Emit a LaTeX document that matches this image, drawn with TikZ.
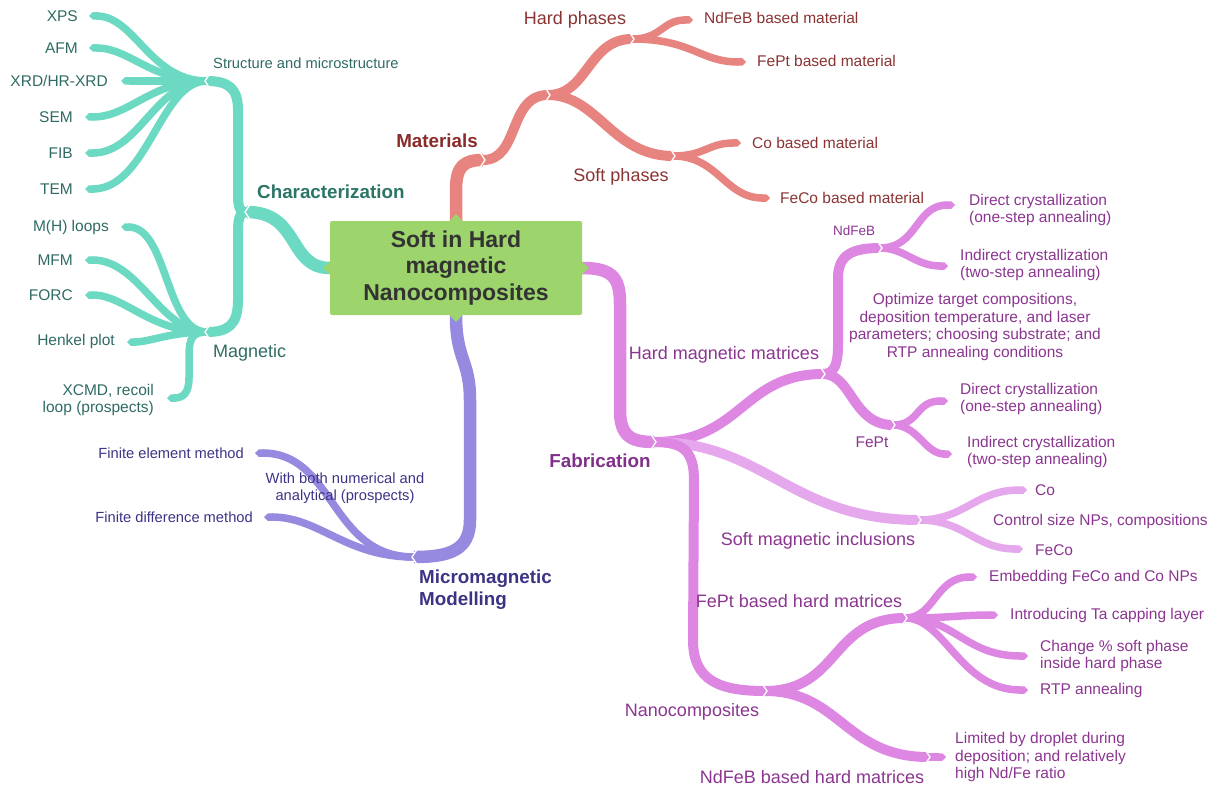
\documentclass[tikz,border=0pt]{standalone}
\usepackage{fontspec}
\setmainfont{Liberation Sans}
\usetikzlibrary{arrows.meta}
\pgfdeclarelayer{bg}
\pgfsetlayers{bg,main}
\definecolor{teal1}{HTML}{6CD9C2}
\definecolor{tealtx}{HTML}{2F6B64}
\definecolor{tealbd}{HTML}{2A7566}
\definecolor{red1}{HTML}{E8847F}
\definecolor{redtx}{HTML}{8A3333}
\definecolor{redbd}{HTML}{8A2A2A}
\definecolor{pur1}{HTML}{DD87E3}
\definecolor{pur2}{HTML}{E6A8EC}
\definecolor{purtx}{HTML}{8B3590}
\definecolor{purbd}{HTML}{80308A}
\definecolor{blu1}{HTML}{9589E0}
\definecolor{blutx}{HTML}{3B3485}
\definecolor{cgreen}{HTML}{9DD46C}
\definecolor{ctx}{HTML}{333333}
\newcommand\fsz[2]{\fontsize{#1}{#2}\selectfont}
\tikzset{
  bA/.style={line width=12.5pt, line cap=butt},
  bB/.style={line width=10pt, line cap=butt},
  bC/.style={line width=7.5pt, line cap=butt, -{Triangle Cap}},
  lf/.style={inner sep=0pt, font=\fsz{15.5}{17.5}},
  lfs/.style={inner sep=0pt, font=\fsz{14.7}{17}},
  mid/.style={inner sep=0pt, font=\fsz{18}{21}},
  big/.style={inner sep=0pt, font=\fsz{18.8}{21.5}\bfseries},
  nr/.pic={\draw[white, line width=1.3pt] (-3,-7.5) -- (2,0) -- (-3,7.5);},
  nl/.pic={\draw[white, line width=1.3pt] (3,-7.5) -- (-2,0) -- (3,7.5);},
}
\begin{document}
\begin{tikzpicture}[x=1pt, y=-1pt]
\useasboundingbox (0,0) rectangle (1215,789);

% central node
\node[fill=cgreen, rounded corners=2pt, minimum width=252pt, minimum height=94pt,
      inner sep=0pt, align=center, text=ctx, font=\fsz{23}{26.5}\bfseries] (c) at (456,268)
      {Soft in Hard\\magnetic\\Nanocomposites};
\fill[cgreen] (449,221.5) -- (456,214) -- (463,221.5) -- cycle;
\fill[cgreen] (449,314.5) -- (456,322) -- (463,314.5) -- cycle;
\fill[cgreen] (330.5,261) -- (323,268) -- (330.5,275) -- cycle;
\fill[cgreen] (581.5,261) -- (589,268) -- (581.5,275) -- cycle;

% junction and tip coordinates
% red
\coordinate (mat) at (483,160);
\coordinate (hs) at (548,95);
\coordinate (hp) at (632,39);
\coordinate (sp) at (673,156);
\coordinate (tndfeb) at (693,20);
\coordinate (tfept) at (746,62);
\coordinate (tco) at (741,143);
\coordinate (tfeco) at (770,198);
% teal
\coordinate (ch) at (247,212);
\coordinate (st) at (207,81);
\coordinate (mg) at (207,332);
\coordinate (txps) at (89,16);
\coordinate (tafm) at (89,48);
\coordinate (txrd) at (121,81);
\coordinate (tsem) at (85,117);
\coordinate (tfib) at (85,153);
\coordinate (ttem) at (85,189);
\coordinate (tmh) at (121,227);
\coordinate (tmfm) at (85,260);
\coordinate (tforc) at (85,295);
\coordinate (thenk) at (127,342);
\coordinate (txcmd) at (167,398);
% blue
\coordinate (mm) at (414,557);
\coordinate (tfem) at (255,453);
\coordinate (tfdm) at (264,517);
% purple
\coordinate (fab) at (654,442);
\coordinate (hmm) at (823,374);
\coordinate (nd) at (880,248);
\coordinate (tnda) at (955,205);
\coordinate (tndb) at (948,266);
\coordinate (fp) at (893,425);
\coordinate (tfpa) at (948,401);
\coordinate (tfpb) at (952,454);
\coordinate (si) at (919,520);
\coordinate (tcob) at (1027,490);
\coordinate (tfecob) at (1023,549);
\coordinate (nc) at (765,691);
\coordinate (fpb) at (905,618);
\coordinate (temb) at (977,577);
\coordinate (tta) at (998,615);
\coordinate (tchg) at (1028,656);
\coordinate (trtp) at (1028,690);
\coordinate (ndb) at (928,757);
\coordinate (tlim) at (946,757);

\begin{pgfonlayer}{bg}
% ---------- Materials (red)
\draw[red1,bA] (c.north) -- (456,190) .. controls (456,166) and (464,160) .. (mat);
\draw[red1,bB] (mat) .. controls (520,160) and (508,95) .. (hs);
\draw[red1,bB] (hs) .. controls (588,95) and (588,39) .. (hp);
\draw[red1,bB] (hs) .. controls (598,95) and (612,156) .. (sp);
\draw[red1,bC] (hp) .. controls (662,39) and (662,20) .. (tndfeb);
\draw[red1,bC] (hp) .. controls (692,39) and (700,62) .. (tfept);
\draw[red1,bC] (sp) .. controls (705,156) and (708,143) .. (tco);
\draw[red1,bC] (sp) .. controls (718,156) and (725,198) .. (tfeco);
% ---------- Characterization (teal)
\draw[teal1,bA] (c.west) .. controls (288,268) and (300,212) .. (ch);
\draw[teal1,bB] (ch) .. controls (238,212) and (238,205) .. (238,190) -- (238,110) .. controls (238,88) and (228,81) .. (st);
\draw[teal1,bB] (ch) .. controls (238,212) and (238,222) .. (238,235) -- (238,300) .. controls (238,325) and (228,332) .. (mg);
\draw[teal1,bC] (st) .. controls (150,81) and (135,16) .. (txps);
\draw[teal1,bC] (st) .. controls (150,81) and (130,48) .. (tafm);
\draw[teal1,bC] (st) -- (txrd);
\draw[teal1,bC] (st) .. controls (150,81) and (130,117) .. (tsem);
\draw[teal1,bC] (st) .. controls (155,81) and (140,153) .. (tfib);
\draw[teal1,bC] (st) .. controls (160,81) and (148,189) .. (ttem);
\draw[teal1,bC] (mg) .. controls (165,332) and (168,227) .. (tmh);
\draw[teal1,bC] (mg) .. controls (160,332) and (140,260) .. (tmfm);
\draw[teal1,bC] (mg) .. controls (150,332) and (125,295) .. (tforc);
\draw[teal1,bC] (mg) .. controls (170,332) and (150,342) .. (thenk);
\draw[teal1,bC] (mg) .. controls (193,332) and (189,338) .. (189,355) -- (189,378) .. controls (189,393) and (183,398) .. (txcmd);
% ---------- Micromagnetic (blue)
\draw[blu1,bA] (c.south) .. controls (456,360) and (470,360) .. (470,400) -- (470,520) .. controls (470,550) and (450,557) .. (mm);
\draw[blu1,bC] (mm) .. controls (330,557) and (335,453) .. (tfem);
\draw[blu1,bC] (mm) .. controls (345,557) and (320,517) .. (tfdm);
% ---------- Fabrication (purple)
\draw[pur1,bA] (c.east) .. controls (615,268) and (620,280) .. (620,305) -- (620,410) .. controls (620,437) and (632,442) .. (fab);
\draw[pur1,bB] (fab) .. controls (742,442) and (742,374) .. (hmm);
\draw[pur1,bB] (hmm) .. controls (834,374) and (838,365) .. (838,345) -- (838,278) .. controls (838,255) and (852,248) .. (nd);
\draw[pur1,bB] (hmm) .. controls (852,374) and (852,425) .. (fp);
\draw[pur1,bC] (nd) .. controls (918,248) and (915,205) .. (tnda);
\draw[pur1,bC] (nd) .. controls (905,248) and (915,266) .. (tndb);
\draw[pur1,bC] (fp) .. controls (920,425) and (915,401) .. (tfpa);
\draw[pur1,bC] (fp) .. controls (918,425) and (925,454) .. (tfpb);
\draw[pur2,bB] (fab) .. controls (765,442) and (790,520) .. (si);
\draw[pur2,bC] (si) .. controls (965,520) and (975,490) .. (tcob);
\draw[pur2,bC] (si) .. controls (965,520) and (975,549) .. (tfecob);
\draw[pur1,bB] (fab) .. controls (682,442) and (694,450) .. (694,480) -- (693,640) .. controls (693,681) and (720,691) .. (nc);
\draw[pur1,bB] (nc) .. controls (840,691) and (830,618) .. (fpb);
\draw[pur1,bB] (nc) .. controls (840,691) and (845,757) .. (ndb);
\draw[pur1,bC] (fpb) .. controls (935,618) and (935,577) .. (temb);
\draw[pur1,bC] (fpb) .. controls (950,618) and (960,615) .. (tta);
\draw[pur1,bC] (fpb) .. controls (955,618) and (965,656) .. (tchg);
\draw[pur1,bC] (fpb) .. controls (945,618) and (960,690) .. (trtp);
\draw[pur1,bC] (ndb) -- (tlim);
\end{pgfonlayer}

% notches
\foreach \p in {mat,hs,hp,sp,fab,hmm,nd,fp,si,nc,fpb,ndb} \pic at (\p) {nr};
\foreach \p in {ch,st,mg,mm} \pic at (\p) {nl};

% ---------- labels red
\node[big, text=redbd] (lmat) at (437,141) {Materials};
\node[mid, text=redtx] (lhp) at (575,20) {Hard phases};
\node[mid, text=redtx] (lsp) at (621,177) {Soft phases};
\node[lf, text=redtx, anchor=west] (lndfeb) at (704,18) {NdFeB based material};
\node[lf, text=redtx, anchor=west] (lfept) at (757,61) {FePt based material};
\node[lf, text=redtx, anchor=west] (lco) at (752,143) {Co based material};
\node[lf, text=redtx, anchor=west] (lfeco) at (780,198) {FeCo based material};
% ---------- labels teal
\node[lfs, text=tealtx, anchor=west] (lst) at (213,63) {Structure and microstructure};
\node[big, text=tealbd, anchor=west] (lch) at (257,192) {Characterization};
\node[mid, text=tealtx, anchor=west] (lmg) at (213,353) {Magnetic};
\node[lf, text=tealtx, anchor=east] (lxps) at (78,16) {XPS};
\node[lf, text=tealtx, anchor=east] (lafm) at (78,48) {AFM};
\node[lf, text=tealtx, anchor=east] (lxrd) at (108,81) {XRD/HR-XRD};
\node[lf, text=tealtx, anchor=east] (lsem) at (73,117) {SEM};
\node[lf, text=tealtx, anchor=east] (lfib) at (73,153) {FIB};
\node[lf, text=tealtx, anchor=east] (ltem) at (73,189) {TEM};
\node[lf, text=tealtx, anchor=east] (lmh) at (109,227) {M(H) loops};
\node[lf, text=tealtx, anchor=east] (lmfm) at (73,260) {MFM};
\node[lf, text=tealtx, anchor=east] (lforc) at (73,295) {FORC};
\node[lf, text=tealtx, anchor=east] (lhenk) at (115,341) {Henkel plot};
\node[lf, text=tealtx, anchor=east, align=right] (lxcmd) at (154,400) {XCMD, recoil\\loop (prospects)};
% ---------- labels blue
\node[big, text=blutx, anchor=north west, align=left] (lmm) at (419,570) {Micromagnetic\\Modelling};
\node[lfs, text=blutx, anchor=east] (lfem) at (244,453) {Finite element method};
\node[lfs, text=blutx, anchor=east] (lfdm) at (253,517) {Finite difference method};
\node[lfs, text=blutx, align=center] (lboth) at (345,488) {With both numerical and\\analytical (prospects)};
% ---------- labels purple
\node[big, text=purbd] (lfab) at (600,461) {Fabrication};
\node[mid, text=purtx] (lhmm) at (724,355) {Hard magnetic matrices};
\node[lfs, text=purtx, font=\fsz{13.5}{16}] (lnd) at (854,231) {NdFeB};
\node[lf, text=purtx, anchor=west, align=left] (lnda) at (969,210) {Direct crystallization\\(one-step annealing)};
\node[lf, text=purtx, anchor=west, align=left] (lndb) at (960,265) {Indirect crystallization\\(two-step annealing)};
\node[lf, text=purtx, align=center] (lopt) at (975,327) {Optimize target compositions,\\deposition temperature, and laser\\parameters; choosing substrate; and\\RTP annealing conditions};
\node[lf, text=purtx] (lfp) at (872,442) {FePt};
\node[lf, text=purtx, anchor=west, align=left] (lfpa) at (960,399) {Direct crystallization\\(one-step annealing)};
\node[lf, text=purtx, anchor=west, align=left] (lfpb) at (967,452) {Indirect crystallization\\(two-step annealing)};
\node[mid, text=purtx] (lsi) at (818,541) {Soft magnetic inclusions};
\node[lf, text=purtx, anchor=west] (lcob) at (1035,490) {Co};
\node[lf, text=purtx, anchor=west] (lctrl) at (993,521) {Control size NPs, compositions};
\node[lf, text=purtx, anchor=west] (lfecob) at (1035,550) {FeCo};
\node[mid, text=purtx] (lnc) at (692,712) {Nanocomposites};
\node[mid, text=purtx] (lfpb) at (799,601) {FePt based hard matrices};
\node[lf, text=purtx, anchor=west] (lemb) at (989,577) {Embedding FeCo and Co NPs};
\node[lf, text=purtx, anchor=west] (lta) at (1010,615) {Introducing Ta capping layer};
\node[lf, text=purtx, anchor=west, align=left] (lchg) at (1040,656) {Change \% soft phase\\inside hard phase};
\node[lf, text=purtx, anchor=west] (lrtp) at (1040,690) {RTP annealing};
\node[mid, text=purtx] (lndb2) at (812,777) {NdFeB based hard matrices};
\node[lf, text=purtx, anchor=west, align=left] (llim) at (955,757) {Limited by droplet during\\deposition; and relatively\\high Nd/Fe ratio};
\end{tikzpicture}
\end{document}
